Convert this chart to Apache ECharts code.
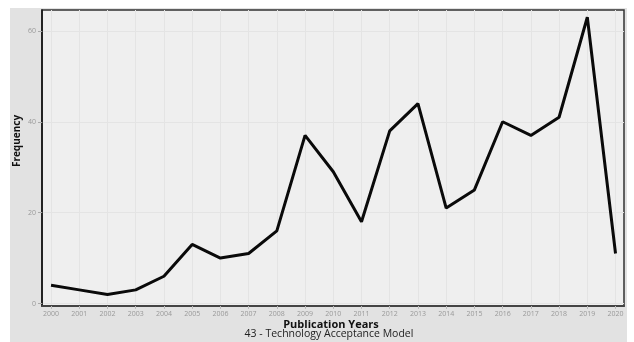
<!DOCTYPE html>
<html><head><meta charset="utf-8">
<script src="https://cdn.jsdelivr.net/npm/echarts@6/dist/echarts.min.js"></script>
<style>html,body{margin:0;padding:0;background:#fff}#c{width:634px;height:342px}</style>
</head><body><div id="c"></div>
<script>
const years = ["2000","2001","2002","2003","2004","2005","2006","2007","2008","2009","2010","2011","2012","2013","2014","2015","2016","2017","2018","2019","2020"];
const frequency = [4,3,2,3,6,13,10,11,16,37,29,18,38,44,21,25,40,37,41,63,11];
const yTicks = [0,20,40,60];
const xTitle = "Publication Years";
const subTitle = "43 - Technology Acceptance Model";
const yTitle = "Frequency";

const xIdx = years.map((y,i)=>i);
const chart = echarts.init(document.getElementById('c'), null, {renderer:'canvas'});
chart.setOption({
  backgroundColor:'#fff',
  animation:false,
  graphic:[
    {type:'rect', z:-10, shape:{x:10,y:8,width:617,height:334}, style:{fill:'#e2e2e2'}},
    {type:'text', x:331, y:325, style:{text:xTitle, font:'bold 11px "Open Sans"', fill:'#111', align:'center', verticalAlign:'middle'}},
    {type:'text', x:329, y:334, style:{text:subTitle, font:'10.5px "Open Sans"', fill:'#222', align:'center', verticalAlign:'middle'}},
    {type:'text', x:17, y:141, rotation:Math.PI/2, style:{text:yTitle, font:'bold 10px "Open Sans"', fill:'#111', align:'center', verticalAlign:'middle'}}
  ],
  grid:{left:42, right:10, top:10, bottom:36, show:true, backgroundColor:'#efefef', borderColor:'#333', borderWidth:1.5},
  xAxis:{
    type:'value', min:-0.32, max:20.3,
    axisLine:{show:true, onZero:false, lineStyle:{color:'#444', width:2}},
    axisTick:{show:true, length:3, customValues:xIdx, lineStyle:{color:'#bbb'}},
    axisLabel:{customValues:xIdx, formatter:v=>years[Math.round(v)], color:'#999', fontSize:7, margin:4, fontFamily:'Open Sans'},
    splitLine:{show:true, lineStyle:{color:'#e4e4e4', width:1}}
  },
  yAxis:{
    type:'value', min:-0.55, max:64.6,
    axisLine:{show:true, onZero:false, lineStyle:{color:'#111', width:1.5}},
    axisTick:{show:true, length:4, customValues:yTicks, lineStyle:{color:'#aaa'}},
    axisLabel:{customValues:yTicks, color:'#999', fontSize:7, margin:6, fontFamily:'Open Sans'},
    splitLine:{show:true, lineStyle:{color:'#e4e4e4', width:1}}
  },
  series:[{
    type:'line', data:frequency.map((v,i)=>[xIdx[i], v]),
    showSymbol:false, lineStyle:{color:'#0a0a0a', width:3}, z:5
  }]
});
</script></body></html>
